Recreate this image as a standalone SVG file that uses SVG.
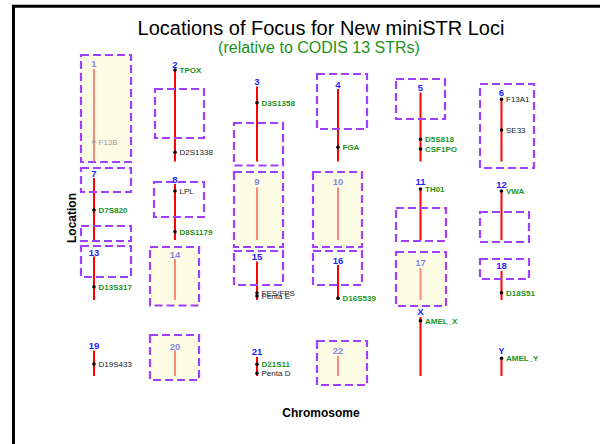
<svg xmlns="http://www.w3.org/2000/svg" width="600" height="444" viewBox="0 0 600 444">
<style>
text{font-family:"Liberation Sans",Arial,sans-serif}
.title{font-size:20px;fill:#000;text-anchor:middle}
.sub{font-size:16px;fill:#1c921c;text-anchor:middle}
.axis{font-size:12px;font-weight:bold;fill:#000;text-anchor:middle}
.num{font-size:9.5px;font-weight:bold;fill:#1f1fff;text-anchor:middle}
.num.f{fill:#8686ea}
.chr{stroke:#ff0000;stroke-width:2}
.chr.f{stroke:#f88a76}
.box{fill:none;stroke:#a040ff;stroke-width:2.2;stroke-dasharray:8 4}
.box.y{fill:#fdfde6}
.dot{fill:#000}
.dot.f{fill:#999}
.g{font-size:8px;font-weight:bold;fill:#1c921c}
.k{font-size:8px;fill:#222}
.k.f{fill:#9a9a9a}
</style>
<rect width="600" height="444" fill="#fff"/>
<path d="M13.5 444V6.2H600" fill="none" stroke="#000" stroke-width="3"/>
<text class="title" x="321" y="35">Locations of Focus for New miniSTR Loci</text>
<text class="sub" x="319" y="53">(relative to CODIS 13 STRs)</text>
<text class="axis" x="321" y="416.5">Chromosome</text>
<text class="axis" transform="translate(76 218) rotate(-90)">Location</text>
<g id="connectors"/>
<g id="chr1">
<rect class="box y" x="81" y="55" width="50" height="107"/>
<line class="chr f" x1="94" y1="69" x2="94" y2="161.5"/>
<text class="num f" x="94" y="67">1</text>
<circle class="dot f" cx="94" cy="141.7" r="1.8"/>
<text class="k f" x="98.5" y="144.7">F13B</text>
</g>
<g id="chr2">
<line class="chr" x1="175" y1="70" x2="175" y2="161.5"/>
<rect class="box" x="155" y="89" width="49" height="49"/>
<text class="num" x="175" y="67.5">2</text>
<circle class="dot" cx="175" cy="70" r="1.8"/>
<text class="g" x="179.5" y="73">TPOX</text>
<circle class="dot" cx="175" cy="152.3" r="1.8"/>
<text class="k" x="179.5" y="155.3">D2S1338</text>
</g>
<g id="chr3">
<line class="chr" x1="257" y1="86.5" x2="257" y2="161.5"/>
<rect class="box" x="234" y="123" width="49" height="42.5"/>
<text class="num" x="257" y="85">3</text>
<circle class="dot" cx="257" cy="102.7" r="1.8"/>
<text class="g" x="261.5" y="105.7">D3S1358</text>
</g>
<g id="chr4">
<line class="chr" x1="338" y1="89" x2="338" y2="161.5"/>
<rect class="box" x="317" y="74" width="50" height="55"/>
<text class="num" x="338" y="87.5">4</text>
<circle class="dot" cx="338" cy="147.3" r="1.8"/>
<text class="g" x="342.5" y="150.3">FGA</text>
</g>
<g id="chr5">
<line class="chr" x1="420.5" y1="92.5" x2="420.5" y2="161.5"/>
<rect class="box" x="396" y="79" width="49" height="40"/>
<text class="num" x="420.5" y="91">5</text>
<circle class="dot" cx="420.5" cy="139.3" r="1.8"/>
<text class="g" x="425" y="142.3">D5S818</text>
<circle class="dot" cx="420.5" cy="149" r="1.8"/>
<text class="g" x="425" y="152">CSF1PO</text>
</g>
<g id="chr6">
<line class="chr" x1="501.5" y1="99" x2="501.5" y2="161.5"/>
<rect class="box" x="480" y="84" width="54" height="84"/>
<text class="num" x="501.5" y="96">6</text>
<circle class="dot" cx="501.5" cy="99.3" r="1.8"/>
<text class="k" x="506" y="102.3">F13A1</text>
<circle class="dot" cx="501.5" cy="130" r="1.8"/>
<text class="k" x="506" y="133">SE33</text>
</g>
<g id="chr7">
<line class="chr" x1="94" y1="178" x2="94" y2="240"/>
<rect class="box" x="81" y="168" width="50" height="24"/>
<rect class="box" x="81" y="226" width="50" height="15"/>
<text class="num" x="94" y="176.5">7</text>
<circle class="dot" cx="94" cy="210" r="1.8"/>
<text class="g" x="98.5" y="213">D7S820</text>
</g>
<g id="chr8">
<line class="chr" x1="175" y1="184" x2="175" y2="240"/>
<rect class="box" x="154" y="182" width="50" height="35"/>
<text class="num" x="175" y="182.5">8</text>
<circle class="dot" cx="175" cy="191" r="1.8"/>
<text class="k" x="179.5" y="194">LPL</text>
<circle class="dot" cx="175" cy="231.7" r="1.8"/>
<text class="g" x="179.5" y="234.7">D8S1179</text>
</g>
<g id="chr9">
<rect class="box y" x="234" y="172" width="49" height="75"/>
<line class="chr f" x1="257" y1="187.5" x2="257" y2="240"/>
<text class="num f" x="257" y="185">9</text>
</g>
<g id="chr10">
<rect class="box y" x="313" y="172" width="49" height="75"/>
<line class="chr f" x1="338" y1="187.5" x2="338" y2="240"/>
<text class="num f" x="338" y="185">10</text>
</g>
<g id="chr11">
<line class="chr" x1="420.5" y1="189" x2="420.5" y2="240"/>
<rect class="box" x="396" y="208" width="50" height="33"/>
<text class="num" x="420.5" y="185">11</text>
<circle class="dot" cx="420.5" cy="189" r="1.8"/>
<text class="g" x="425" y="192">TH01</text>
</g>
<g id="chr12">
<line class="chr" x1="501.5" y1="191" x2="501.5" y2="240"/>
<rect class="box" x="480" y="212" width="49" height="30"/>
<text class="num" x="501.5" y="188">12</text>
<circle class="dot" cx="501.5" cy="191" r="1.8"/>
<text class="g" x="506" y="194">VWA</text>
</g>
<g id="chr13">
<line class="chr" x1="94" y1="256.5" x2="94" y2="300"/>
<rect class="box" x="81" y="246" width="50" height="31"/>
<text class="num" x="94" y="255.5">13</text>
<circle class="dot" cx="94" cy="286.7" r="1.8"/>
<text class="g" x="98.5" y="289.7">D13S317</text>
</g>
<g id="chr14">
<rect class="box y" x="150" y="247" width="49" height="58.5"/>
<line class="chr f" x1="175" y1="259" x2="175" y2="300"/>
<text class="num f" x="175" y="257.5">14</text>
</g>
<g id="chr15">
<line class="chr" x1="257" y1="261.5" x2="257" y2="300"/>
<rect class="box" x="234" y="251" width="49" height="34"/>
<text class="num" x="257" y="260">15</text>
<circle class="dot" cx="257" cy="293" r="1.8"/>
<text class="k" x="261.5" y="296">FES/FPS</text>
<circle class="dot" cx="257" cy="296" r="1.8"/>
<text class="k" x="261.5" y="299">Penta E</text>
</g>
<g id="chr16">
<line class="chr" x1="338" y1="265" x2="338" y2="298.5"/>
<rect class="box" x="313" y="251" width="49" height="34"/>
<text class="num" x="338" y="263.5">16</text>
<circle class="dot" cx="338" cy="298.3" r="1.8"/>
<text class="g" x="342.5" y="301.3">D16S539</text>
</g>
<g id="chr17">
<rect class="box y" x="396" y="252" width="50" height="54"/>
<line class="chr f" x1="420.5" y1="268" x2="420.5" y2="300"/>
<text class="num f" x="420.5" y="266">17</text>
</g>
<g id="chr18">
<line class="chr" x1="501.5" y1="271" x2="501.5" y2="300"/>
<rect class="box" x="480" y="259" width="49" height="20"/>
<text class="num" x="501.5" y="268.5">18</text>
<circle class="dot" cx="501.5" cy="292.7" r="1.8"/>
<text class="g" x="506" y="295.7">D18S51</text>
</g>
<g id="chr19">
<line class="chr" x1="94" y1="350.5" x2="94" y2="376"/>
<text class="num" x="94" y="348.5">19</text>
<circle class="dot" cx="94" cy="364" r="1.8"/>
<text class="k" x="98.5" y="367">D19S433</text>
</g>
<g id="chr20">
<rect class="box y" x="150" y="335" width="49" height="45"/>
<line class="chr f" x1="175" y1="350.5" x2="175" y2="376"/>
<text class="num f" x="175" y="349.5">20</text>
</g>
<g id="chr21">
<line class="chr" x1="257" y1="357" x2="257" y2="376"/>
<text class="num" x="257" y="355">21</text>
<circle class="dot" cx="257" cy="364.3" r="1.8"/>
<text class="g" x="261.5" y="367.3">D21S11</text>
<circle class="dot" cx="257" cy="373.3" r="1.8"/>
<text class="k" x="261.5" y="376.3">Penta D</text>
</g>
<g id="chr22">
<rect class="box y" x="317" y="341" width="50" height="44"/>
<line class="chr f" x1="338" y1="356" x2="338" y2="376"/>
<text class="num f" x="338" y="354">22</text>
</g>
<g id="chrX">
<line class="chr" x1="420.5" y1="317" x2="420.5" y2="376"/>
<text class="num" x="420.5" y="315">X</text>
<circle class="dot" cx="420.5" cy="320.7" r="1.8"/>
<text class="g" x="425" y="323.7">AMEL_X</text>
</g>
<g id="chrY">
<line class="chr" x1="501.5" y1="358" x2="501.5" y2="376"/>
<text class="num" x="501.5" y="353.5">Y</text>
<circle class="dot" cx="501.5" cy="358.3" r="1.8"/>
<text class="g" x="506" y="361.3">AMEL_Y</text>
</g>
</svg>
